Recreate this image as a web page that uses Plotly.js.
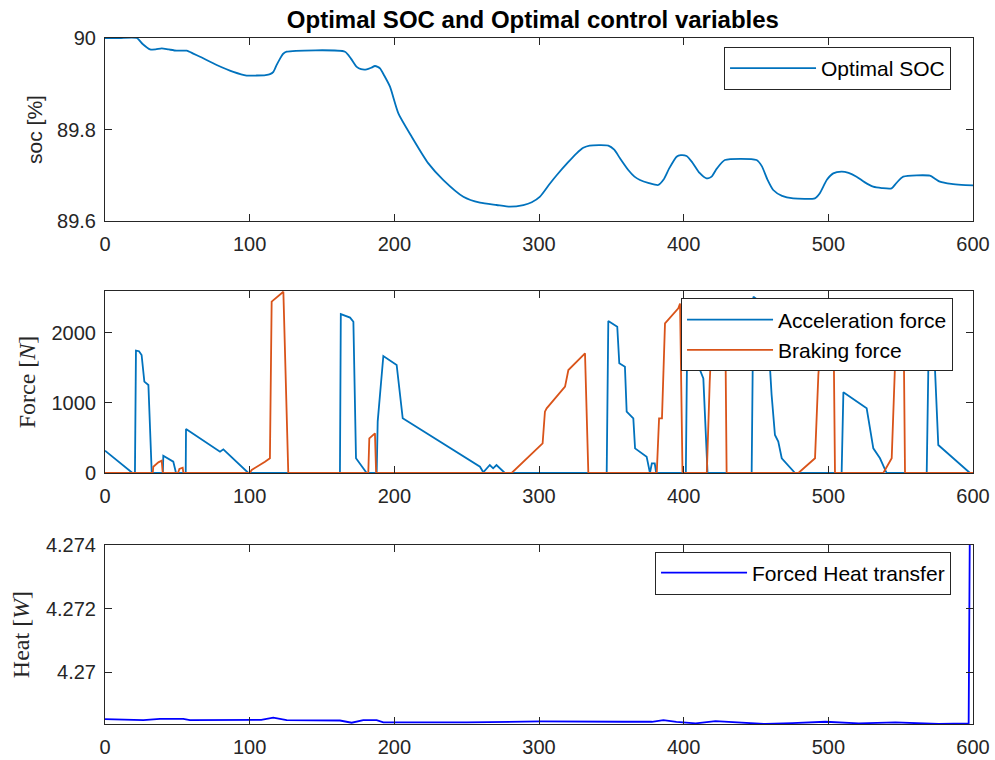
<!DOCTYPE html>
<html>
<head>
<meta charset="utf-8">
<script src="https://cdn.plot.ly/plotly-3.0.1.min.js"></script>
<style>html,body{margin:0;padding:0;background:#fff;}#chart{width:995px;height:760px;}</style>
</head>
<body>
<div id="chart"></div>
<script>
// ---- data ----
const socTime = [0, 10, 21.9, 26, 31.1, 35, 39.2, 44, 49.5, 56.5, 61, 65.7, 77.2, 88.7, 97.9, 104.8, 111, 114.1, 116.4, 118.5, 121, 123, 125.6, 165.9, 170, 174, 177, 180.9, 184, 186.6, 188.5, 190.1, 193, 197, 202.8, 212, 223.5, 233.9, 247.7, 259.2, 270.7, 280, 289.2, 295, 300.7, 307.6, 312.2, 320, 326, 330.6, 335, 347.9, 352, 356, 361.7, 366, 369.8, 376, 382.4, 386, 390, 395.1, 398, 402, 406, 411, 415.8, 419.3, 423, 428.5, 450.4, 454, 458, 461.9, 468, 475.7, 490.7, 494, 499, 503.4, 509.1, 514, 519.5, 525, 531, 537, 543.7, 547, 551.8, 570.2, 574, 577.1, 585, 592, 600];
const socValue = [90, 90, 90, 89.987, 89.9752, 89.975, 89.9774, 89.975, 89.9723, 89.9723, 89.966, 89.959, 89.941, 89.926, 89.918, 89.918, 89.919, 89.921, 89.926, 89.940, 89.955, 89.965, 89.970, 89.970, 89.955, 89.937, 89.932, 89.9315, 89.935, 89.9388, 89.937, 89.9337, 89.918, 89.8936, 89.8353, 89.7843, 89.726, 89.6896, 89.6532, 89.64, 89.635, 89.6313, 89.635, 89.641, 89.6532, 89.682, 89.700, 89.728, 89.748, 89.760, 89.765, 89.765, 89.756, 89.737, 89.7115, 89.697, 89.6896, 89.683, 89.6787, 89.690, 89.715, 89.7406, 89.744, 89.742, 89.728, 89.705, 89.6933, 89.697, 89.715, 89.7333, 89.7333, 89.72, 89.69, 89.6678, 89.655, 89.6495, 89.6495, 89.66, 89.69, 89.7041, 89.7078, 89.705, 89.6969, 89.685, 89.675, 89.672, 89.6714, 89.683, 89.6969, 89.6991, 89.692, 89.686, 89.681, 89.679, 89.678];

const accTime  = [0, 19, 20.7, 21.4, 23.5, 25.3, 27.2, 30, 32.3, 40, 40.3, 47.2, 49.1, 55.8, 56, 79.5, 81.8, 99.1, 162.4, 163, 169.4, 171.7, 173.5, 180.9, 187.8, 188.5, 192.4, 201.6, 205.8, 259.2, 261.5, 266, 268.3, 270.6, 276.4, 346.8, 347.9, 354.1, 355.5, 359.4, 360.6, 365.2, 366.4, 374.4, 376.7, 378, 380, 381, 401.5, 402.5, 410, 411.3, 413.6, 416.5, 447, 448.2, 452.8, 456, 459.7, 460.8, 463.1, 465.4, 467.8, 477, 509.2, 510.4, 526.5, 531.1, 535.7, 540.3, 568, 569.5, 573.7, 576, 597.9, 600];
const accForce = [319, 0, 0, 1748, 1740, 1686, 1305, 1257, 0, 0, 247, 162, 0, 0, 628, 305, 338, 0, 0, 2270, 2220, 2160, 210, 0, 0, 738, 1671, 1543, 781, 90, 10, 114, 67, 114, 0, 0, 2171, 2090, 1567, 1519, 876, 781, 352, 233, 0, 138, 138, 0, 0, 2000, 1620, 1471, 1352, 0, 0, 2519, 2448, 2350, 1495, 1114, 543, 448, 210, 0, 0, 1152, 924, 352, 210, 0, 0, 2000, 1495, 400, 0, 0];

const brakeTime  = [0, 33, 33.4, 36.9, 39.2, 39.9, 50.5, 51.4, 53.7, 54.2, 100, 101.4, 110.6, 114, 115.2, 123.3, 126.7, 182, 182.7, 186.6, 187.4, 281.1, 302.5, 304.1, 305.3, 318, 320.3, 331.8, 334.1, 381.4, 383, 385, 387.1, 396.3, 397.5, 399.2, 416, 418, 420, 428.6, 429.7, 479.3, 490.8, 493.1, 496, 503.5, 504.6, 538, 543.8, 546.1, 548, 552, 553, 600];
const brakeForce = [0, 0, 90, 152, 176, 0, 0, 57, 76, 0, 0, 43, 162, 210, 2448, 2590, 0, 0, 495, 567, 0, 0, 424, 876, 924, 1233, 1471, 1710, 0, 0, 781, 781, 2138, 2352, 2420, 0, 0, 1300, 2200, 2495, 0, 0, 210, 1400, 2200, 2250, 0, 0, 210, 1543, 2100, 2150, 0, 0];

const heatTime  = [0, 26.5, 38, 54.1, 58.7, 97.9, 108, 116.3, 121, 125.6, 162.4, 170.5, 178.5, 187.8, 192.4, 250, 300.7, 323.7, 358.2, 378, 386, 395, 408.3, 422, 440, 456.6, 475, 498, 521, 546.4, 576.3, 594.7, 597, 597.8, 600];
const heatValue = [4.26853, 4.26850, 4.26854, 4.26854, 4.26850, 4.26851, 4.26851, 4.26858, 4.26853, 4.26850, 4.26849, 4.26842, 4.26850, 4.26850, 4.26843, 4.26843, 4.26846, 4.26845, 4.26845, 4.26845, 4.26850, 4.26845, 4.26840, 4.26847, 4.26843, 4.26838, 4.26841, 4.26845, 4.26840, 4.26843, 4.26838, 4.26840, 4.26840, 4.2745, 4.2745];

const xTickVals = [0, 100, 200, 300, 400, 500, 600];
const socTickVals = [89.6, 89.8, 90];
const socTickText = ['89.6', '89.8', '90'];
const forceTickVals = [0, 1000, 2000];
const forceTickText = ['0', '1000', '2000'];
const heatTickVals = [4.27, 4.272, 4.274];
const heatTickText = ['4.27', '4.272', '4.274'];

// ---- styling ----
const axisCol = '#262626';
const tickFont = {family: 'Liberation Sans, Arial, sans-serif', size: 20, color: axisCol};
function xAx(anchor) {
  return {anchor: anchor, range: [0, 600], tickvals: xTickVals, ticks: 'inside', ticklen: 7,
    tickcolor: axisCol, showline: true, linecolor: axisCol, linewidth: 1, mirror: 'ticks',
    showgrid: false, zeroline: false, tickfont: tickFont, ticklabelstandoff: 5, fixedrange: true};
}
function yAx(anchor, domain, range, vals, text, title, tfont, standoff) {
  return {anchor: anchor, domain: domain, range: range, tickvals: vals, ticktext: text,
    ticks: 'inside', ticklen: 7, tickcolor: axisCol, showline: true, linecolor: axisCol,
    linewidth: 1, mirror: 'ticks', showgrid: false, zeroline: false, tickfont: tickFont,
    ticklabelstandoff: 4, fixedrange: true,
    title: {text: title, font: tfont, standoff: standoff}};
}
const sansTitle = {family: 'Liberation Sans, Arial, sans-serif', size: 21, color: axisCol};
const serifTitle = {family: 'Liberation Serif, Times New Roman, serif', size: 24, color: axisCol};
const legFont = {family: 'Liberation Sans, Arial, sans-serif', size: 21, color: '#000'};
function leg(x, y) {
  return {x: x, y: y, xanchor: 'right', yanchor: 'middle', bgcolor: '#fff', bordercolor: axisCol,
    borderwidth: 1, font: legFont, itemwidth: 86, tracegroupgap: 0};
}

const traces = [
  {x: socTime, y: socValue, xaxis: 'x', yaxis: 'y', mode: 'lines', name: 'Optimal SOC',
   line: {color: '#0072BD', width: 1.8, shape: 'spline', smoothing: 0.6}, legend: 'legend'},
  {x: accTime, y: accForce, xaxis: 'x2', yaxis: 'y2', mode: 'lines', name: 'Acceleration force',
   line: {color: '#0072BD', width: 1.8}, legend: 'legend2'},
  {x: brakeTime, y: brakeForce, xaxis: 'x2', yaxis: 'y2', mode: 'lines', name: 'Braking force',
   line: {color: '#D95319', width: 1.8}, legend: 'legend2'},
  {x: heatTime, y: heatValue, xaxis: 'x3', yaxis: 'y3', mode: 'lines', name: 'Forced Heat transfer',
   line: {color: '#0000FF', width: 1.8}, legend: 'legend3'}
];

const layout = {
  width: 995, height: 760,
  margin: {l: 105, r: 22, t: 38, b: 36},
  paper_bgcolor: '#fff', plot_bgcolor: '#fff',
  showlegend: true,
  title: {text: '<b>Optimal SOC and Optimal control variables</b>',
    font: {family: 'Liberation Sans, Arial, sans-serif', size: 24, color: '#000'},
    xref: 'paper', x: 0.493, xanchor: 'center', yref: 'container', y: 0.974, yanchor: 'middle'},
  xaxis: xAx('y'),
  xaxis2: xAx('y2'),
  xaxis3: xAx('y3'),
  yaxis: yAx('x', [0.7332, 1], [89.6, 90], socTickVals, socTickText, 'soc [%]', sansTitle, 8),
  yaxis2: yAx('x2', [0.3659, 0.6312], [0, 2600], forceTickVals, forceTickText, 'Force [<i>N</i>]', serifTitle, 9),
  yaxis3: yAx('x3', [0, 0.2609], [4.26838, 4.274], heatTickVals, heatTickText, 'Heat [<i>W</i>]', serifTitle, 9),
  legend: leg(0.9747, 0.9555),
  legend2: leg(0.977, 0.5671),
  legend3: leg(0.9747, 0.2201)
};

Plotly.newPlot('chart', traces, layout, {displayModeBar: false, staticPlot: true});
</script>
</body>
</html>
